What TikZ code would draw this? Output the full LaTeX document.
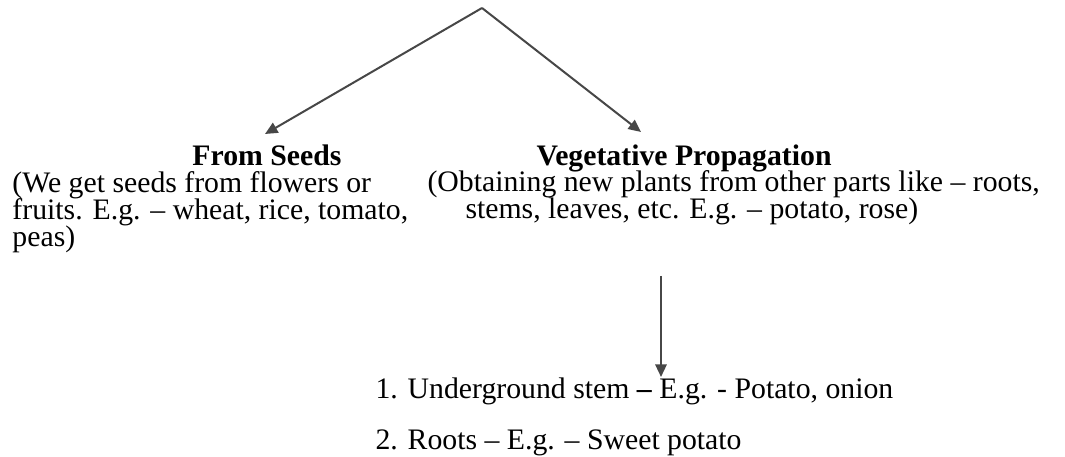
\documentclass[tikz,border=0pt]{standalone}
\usepackage{fontspec}
\setmainfont{Liberation Serif}
\usetikzlibrary{arrows.meta}
\tikzset{
 txt/.style={anchor=base west,inner sep=0pt,font=\fontsize{11.9}{13}\selectfont},
 head/.style={anchor=base,inner sep=0pt,font=\fontsize{11.9}{13}\selectfont\bfseries},
 arr/.style={draw=black!72,line width=0.8pt,-{Triangle[length=5pt,width=4.5pt]}}
}
\begin{document}
\begin{tikzpicture}[x=0.4pt,y=-0.4pt]
 \useasboundingbox (0,0) rectangle (1065,457);
 \coordinate (apex) at (482,8); \coordinate (seedtip) at (265,134); \coordinate (vegtip) at (641,132);
 \node[head] (seeds) at (267,166) {From Seeds};
 \node[head] (veg) at (684,166) {Vegetative Propagation};
 % seeds text
 \node[txt] (seedsa) at (12,193) {(We get seeds from flowers or};
 \node[txt] (seedsb) at (12,220) {fruits. E.g. -- wheat, rice, tomato,};
 \node[txt] (seedsc) at (12,247) {peas)};
 % vegetative text
 \node[txt] (vega) at (427,192) {(Obtaining new plants from other parts like -- roots,};
 \node[txt] (vegb) at (465,219) {stems, leaves, etc. E.g. -- potato, rose)};
 \node[txt] (item1) at (375,399) {1. Underground stem \textbf{--} E.g. - Potato, onion};
 \node[txt] (item2) at (375,450) {2. Roots -- E.g. -- Sweet potato};
 \coordinate (vtop) at (661,276); \coordinate (vtip) at (661,377);
 \draw[arr] (apex) -- (seedtip); \draw[arr] (apex) -- (vegtip);
 \draw[arr] (vtop) -- (vtip);
\end{tikzpicture}
\end{document}
